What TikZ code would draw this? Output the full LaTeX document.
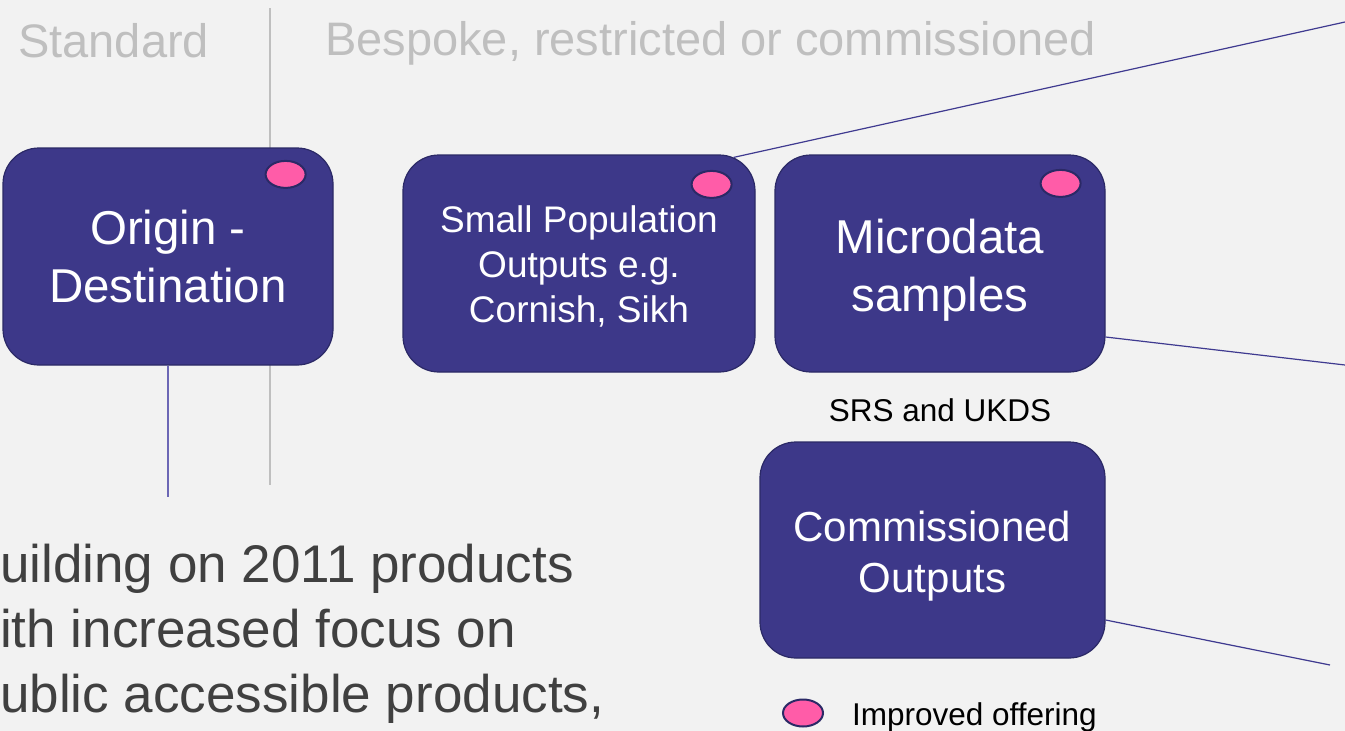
\documentclass[tikz,border=0pt]{standalone}
\usepackage{fontspec}
\setmainfont{Liberation Sans}
\usetikzlibrary{shapes}
\definecolor{bg}{HTML}{F2F2F2}
\definecolor{boxfill}{HTML}{3D3889}
\definecolor{boxline}{HTML}{2B2966}
\definecolor{dotfill}{HTML}{FF5CA8}
\definecolor{hdrgrey}{HTML}{BFBFBF}
\definecolor{linkline}{HTML}{3F3A90}
\definecolor{stemline}{HTML}{6C67B5}
\definecolor{bodygrey}{HTML}{404040}

\begin{document}
\begin{tikzpicture}[x=1pt,y=-1pt]
    \tikzstyle{product}=[rectangle, rounded corners=36pt, draw=boxline, line width=1.2pt, fill=boxfill, text=white, align=center, inner sep=0pt]
    \tikzstyle{improved}=[ellipse, draw=boxline, line width=2pt, fill=dotfill, minimum width=40pt, minimum height=27pt, inner sep=0pt]
    \tikzstyle{header}=[text=hdrgrey, font=\fontsize{47}{52}\selectfont, anchor=base west, inner sep=0pt]
    \tikzstyle{body}=[text=bodygrey, font=\fontsize{53}{62}\selectfont, anchor=base west, inner sep=0pt]
    \tikzstyle{note}=[text=black, font=\fontsize{31.5}{34}\selectfont, inner sep=0pt]
    \tikzstyle{divider}=[draw=hdrgrey, line width=1.2pt]
    \tikzstyle{link}=[draw=linkline, line width=1.2pt]

    \fill[bg] (0,0) rectangle (1345,731);
    \useasboundingbox (0,0) rectangle (1345,731);

    \node[header] (standard) at (18,57) {Standard};
    \node[header] (bespoke) at (325,55) {Bespoke, restricted or commissioned};
    \draw[divider] (270,8) -- (270,485);

    \node[product, minimum width=330pt, minimum height=217pt, font=\fontsize{47.5}{58}\selectfont] (od) at (168,256.5) {Origin -\\Destination};
    \node[product, minimum width=352pt, minimum height=217pt, font=\fontsize{37}{45}\selectfont] (spo) at (579,263.5) {\rule{0pt}{33pt}Small Population\\Outputs e.g.\\Cornish, Sikh};
    \node[product, minimum width=330pt, minimum height=217pt, font=\fontsize{47.5}{58}\selectfont] (micro) at (940,263.5) {\rule{0pt}{47pt}Microdata\\samples};
    \node[product, minimum width=345pt, minimum height=216pt, font=\fontsize{42}{51}\selectfont] (comm) at (932.5,550) {\rule{0pt}{43pt}Commissioned\\Outputs};

    \node[improved] (oddot) at ([shift={(-48,27)}]od.north east) {};
    \node[improved] (spodot) at ([shift={(-44,30)}]spo.north east) {};
    \node[improved] (microdot) at ([shift={(-45,29)}]micro.north east) {};

    \node[note] (srs) at (940,410) {SRS and UKDS};

    \coordinate (odfoot) at (168,497);
    \coordinate (farup) at (1345,22);
    \coordinate (farmid) at (1345,365);
    \coordinate (farlow) at (1330,665);
    \draw[stemline, line width=1.2pt] (od.south) -- (odfoot);
    \draw[link] ([shift={(-22,3)}]spo.north east) -- (farup);
    \draw[link] ([shift={(0,73.5)}]micro.east) -- (farmid);
    \draw[link] ([shift={(0,70)}]comm.east) -- (farlow);

    \node[body] (line1) at (0,582) {uilding on 2011 products};
    \node[body] (line2) at (0,647) {ith increased focus on};
    \node[body] (line3) at (0,712) {ublic accessible products,};

    \node[improved] (key) at (803,713) {};
    \node[note, anchor=base west] (keytext) at (852,725) {Improved offering};
\end{tikzpicture}
\end{document}
